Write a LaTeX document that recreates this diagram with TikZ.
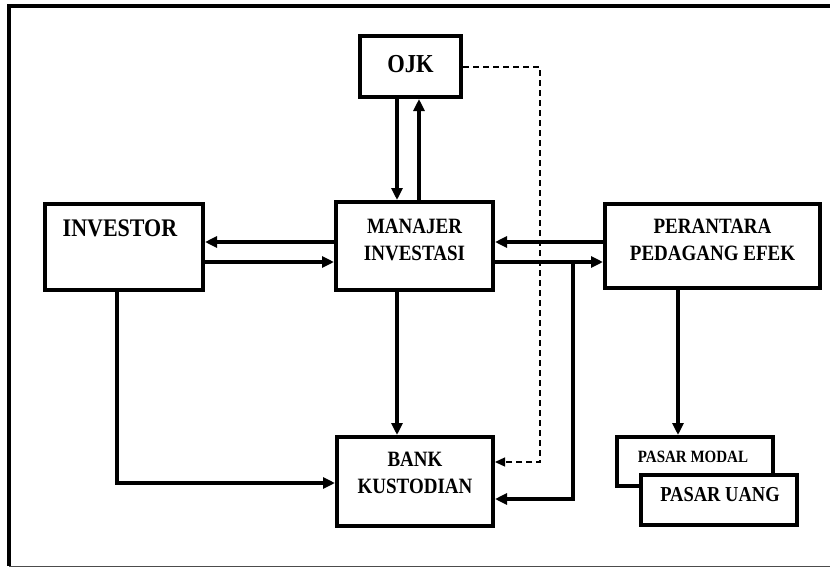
\documentclass[tikz,border=0pt]{standalone}
\usepackage{fontspec}
\usepackage{graphicx}
\setmainfont{Liberation Serif}
\usetikzlibrary{arrows.meta}
\newcommand{\tallbox}[1]{\scalebox{1}[1.15]{\begin{tabular}{@{}c@{}}#1\end{tabular}}}
\begin{document}
\begin{tikzpicture}[x=1pt,y=-1pt,
  box/.style={draw=black,line width=4pt,fill=white,minimum width=#1,inner sep=0pt},
  lbl/.style={font=\fontsize{19}{23.5}\selectfont\bfseries,align=center,inner sep=0pt},
  arr/.style={line width=3.2pt,-{Triangle[length=12pt,width=11pt]}},
  darr/.style={line width=1.3pt,dash pattern=on 6pt off 4pt,-{Triangle[length=10pt,width=9pt]}}]
\useasboundingbox (0,0) rectangle (830,568);
% outer frame
\draw[line width=4pt] (830,6) -- (9,6) -- (9,566);
\draw[line width=1pt,black!70] (9,566) -- (830,566);
% boxes
\node[box=101pt,minimum height=61pt] (ojk) at (410.5,66.5) {};
\node[lbl,font=\fontsize{22.5}{26}\selectfont\bfseries] (ojkt) at (410.5,67) {\tallbox{OJK}};
\node[box=158pt,minimum height=86pt] (inv) at (124,247) {};
\node[lbl,font=\fontsize{22}{26}\selectfont\bfseries] (invt) at (120,231) {\tallbox{INVESTOR}};
\node[box=157pt,minimum height=88pt] (mi) at (414.5,246) {};
\node[lbl] (mit) at (414.5,242) {\tallbox{MANAJER\\INVESTASI}};
\node[box=215pt,minimum height=84pt] (per) at (712.5,246) {};
\node[lbl] (pert) at (712.5,242) {\tallbox{PERANTARA\\PEDAGANG EFEK}};
\node[box=156pt,minimum height=89pt] (bank) at (415,481.5) {};
\node[lbl] (bankt) at (415,475) {\tallbox{BANK\\KUSTODIAN}};
\node[box=156pt,minimum height=49pt] (pm) at (695,461.5) {};
\node[lbl,font=\fontsize{15}{18}\selectfont\bfseries] (pmt) at (693,458) {\tallbox{PASAR MODAL}};
\node[box=156pt,minimum height=50pt] (pu) at (719,500) {};
\node[lbl,font=\fontsize{18.5}{22}\selectfont\bfseries] (put) at (720,496) {\tallbox{PASAR UANG}};
% connectors
\coordinate (a1) at (397,0);
\coordinate (a2) at (419,0);
\draw[arr] (ojk.south -| a1) -- (mi.north -| a1);
\draw[arr] (mi.north -| a2) -- (ojk.south -| a2);
\coordinate (y1) at (0,242);
\coordinate (y2) at (0,262);
\draw[arr] (mi.west |- y1) -- (inv.east |- y1);
\draw[arr] (inv.east |- y2) -- (mi.west |- y2);
\draw[arr] (per.west |- y1) -- (mi.east |- y1);
\draw[arr] (mi.east |- y2) -- (per.west |- y2);
\coordinate (c1) at (573,262);
\coordinate (c2) at (573,499);
\draw[arr] (c1) -- (c2) -- (bank.east |- c2);
\coordinate (d0) at (0,67);
\coordinate (d1) at (540,67);
\coordinate (d2) at (540,462);
\draw[darr] (ojk.east |- d0) -- (d1) -- (d2) -- (bank.east |- d2);
\draw[arr] (mi.south -| a1) -- (bank.north -| a1);
\coordinate (e1) at (117,483);
\draw[arr] (inv.south -| e1) -- (e1) -- (bank.west |- e1);
\coordinate (f1) at (678,0);
\draw[arr] (per.south -| f1) -- (pm.north -| f1);
\end{tikzpicture}
\end{document}
